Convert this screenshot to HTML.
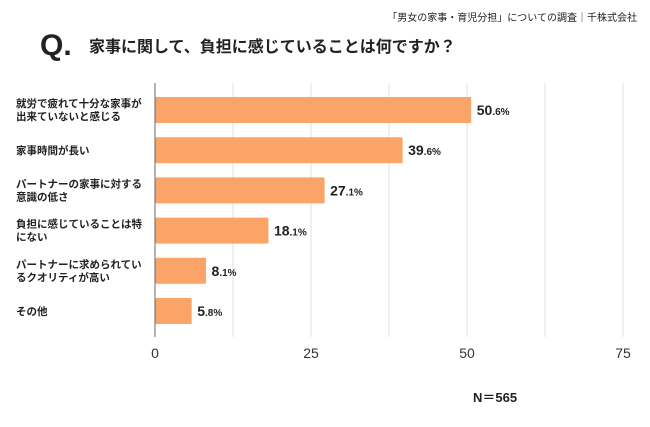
<!DOCTYPE html>
<html><head><meta charset="utf-8">
<style>
body{margin:0;background:#fff;width:650px;height:427px;overflow:hidden;font-family:"Liberation Sans","Noto Sans CJK JP",sans-serif;}
svg{display:block}
</style></head>
<body>
<svg id="chart" width="650" height="427">
<text x="637" y="21" text-anchor="end" font-size="10" fill="#222">「男女の家事・育児分担」についての調査｜千株式会社</text>
<text x="40" y="55" font-size="30" font-weight="bold" fill="#222">Q.</text>
<text x="89" y="52" font-size="16" font-weight="bold" fill="#222">家事に関して、負担に感じていることは何ですか？</text>
<text x="473" y="402" font-size="13" font-weight="bold" fill="#222">N＝565</text>
<g id="grid"></g><g id="bars"></g><g id="labels"></g><g id="ticks"></g>
</svg>
<script>
const categories=[["就労で疲れて十分な家事が","出来ていないと感じる"],["家事時間が長い"],["パートナーの家事に対する","意識の低さ"],["負担に感じていることは特","にない"],["パートナーに求められてい","るクオリティが高い"],["その他"]];
const values=[50.6,39.6,27.1,18.1,8.1,5.8];
const tickValues=[0,25,50,75];
const gridValues=[12.5,25,37.5,50,62.5,75];
const NS="http://www.w3.org/2000/svg";
const x0=155,pxPerUnit=6.24;
const xs=v=>x0+v*pxPerUnit;
const barTop=i=>97+i*40.2;
function mk(tag,attrs,parent){const e=document.createElementNS(NS,tag);for(const k in attrs)e.setAttribute(k,attrs[k]);document.getElementById(parent).appendChild(e);return e;}
gridValues.forEach(v=>{const l=mk('line',{x1:xs(v),x2:xs(v),y1:83,y2:337,stroke:'#e2e2e2','stroke-width':1},'grid');

});
const ax=mk('line',{x1:x0,x2:x0,y1:83,y2:337,stroke:'#666','stroke-width':1},'grid');


values.forEach((v,i)=>{const y=barTop(i);
const r=mk('rect',{x:x0+0.5,y:y,width:xs(v)-x0,height:26,fill:'#fba467',rx:1},'bars');


const s=String(v).split('.');
const t=mk('text',{x:xs(v)+6,y:y+18,'font-size':14,'font-weight':'bold',fill:'#222'},'labels');
t.innerHTML=s[0]+'<tspan font-size="10">.'+s[1]+'%</tspan>';


const lines=categories[i];
const c=mk('text',{x:16,'font-size':10.5,'font-weight':'bold',fill:'#222'},'labels');
lines.forEach((ln,j)=>{const sp=document.createElementNS(NS,'tspan');sp.setAttribute('x',16);sp.setAttribute('y',lines.length===1?y+17:y+10+j*13);sp.textContent=ln;c.appendChild(sp);});

});
tickValues.forEach(v=>{const t=mk('text',{x:xs(v),y:358,'text-anchor':'middle','font-size':14,fill:'#333'},'ticks');t.textContent=v;

});
</script>
</body></html>
